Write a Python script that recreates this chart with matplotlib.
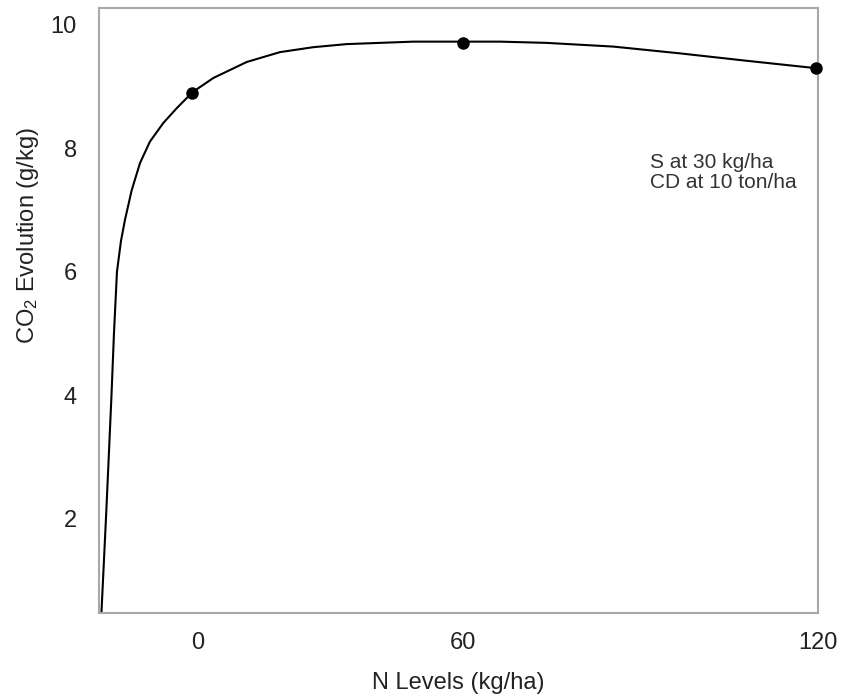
import matplotlib
matplotlib.use("Agg")
import matplotlib.pyplot as plt

plt.rcParams['font.family'] = ['Liberation Sans', 'DejaVu Sans']
plt.rcParams['mathtext.default'] = 'regular'

# fitted curve (x in axis units, 0 and 60 are the tick marks)
curve_x = [-21.85, -20.83, -20.2, -19.58, -19.02, -18.34, -17.43, -16.53, -15.01, -13.13,
           -10.87, -7.86, -4.82, -1.25, 3.46, 11.03, 18.57, 26.1, 33.67, 41.2,
           48.75, 60.0, 68.4, 78.9, 94.0, 109.1, 124.2, 139.9]
curve_y = [0.48, 2.0, 3.0, 4.0, 5.0, 6.0, 6.5, 6.84, 7.32, 7.76,
           8.11, 8.41, 8.65, 8.91, 9.14, 9.40, 9.56, 9.64, 9.69, 9.71,
           9.73, 9.73, 9.73, 9.71, 9.65, 9.54, 9.42, 9.30]

# measured points
pts_x = [-1.25, 60.07, 139.9]
pts_y = [8.90, 9.70, 9.30]

tick_pos = [0, 60, 140.3]
tick_lab = ['0', '60', '120']
ytick_vals = [2, 4, 6, 8, 10]

fig = plt.figure(figsize=(8.49, 6.99), dpi=100)
ax = fig.add_axes([0.1166, 0.1230, 0.8469, 0.8656])

ax.plot(curve_x, curve_y, color='black', lw=1.5, zorder=2)
ax.plot(pts_x, pts_y, 'o', color='black', ms=8, zorder=3, clip_on=False)

ax.set_xlim(-22.41, 140.38)
ax.set_ylim(0.465, 10.276)
ax.set_xticks(tick_pos)
ax.set_xticklabels(tick_lab)
ax.set_yticks(ytick_vals)
ax.tick_params(length=0, labelsize=17, colors='#222222')
ax.tick_params(axis='x', pad=14)
ax.tick_params(axis='y', pad=16)

for s in ax.spines.values():
    s.set_color('#a8a8a8')
    s.set_linewidth(1.5)

ax.set_xlabel('N Levels (kg/ha)', fontsize=17, color='#222222')
ax.set_ylabel('CO$_2$ Evolution (g/kg)', fontsize=17, color='#222222')
ax.xaxis.set_label_coords(0.50, -0.0975)
ax.yaxis.set_label_coords(-0.081, 0.623)

ax.text(0.766, 0.728, 'S at 30 kg/ha\nCD at 10 ton/ha', transform=ax.transAxes,
        fontsize=15, color='#333333', va='center', ha='left', linespacing=1.1)

fig.savefig('out.png', dpi=100)
